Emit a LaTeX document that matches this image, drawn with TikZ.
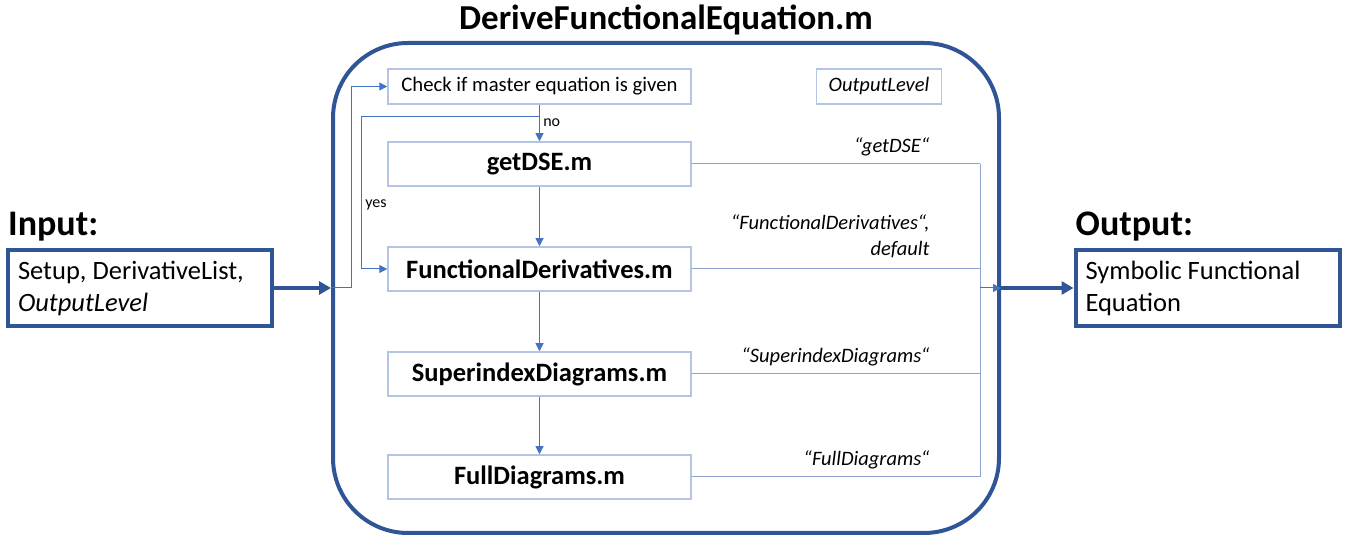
\documentclass[tikz,border=0pt]{standalone}
\usepackage{fontspec}
\setmainfont{Carlito}
\usetikzlibrary{arrows.meta, positioning, calc}

\definecolor{darkblue}{HTML}{2F5597}
\definecolor{linkblue}{HTML}{4472C4}
\definecolor{boxblue}{HTML}{B4C5E4}
\definecolor{tapblue}{HTML}{8EA4CF}

\begin{document}
\begin{tikzpicture}[
    x = 1pt, y = 1pt,
    node distance = 59.5pt,
    frame/.style = {draw=darkblue, line width=4pt, rectangle, rounded corners=75pt, minimum width=666pt, minimum height=490pt},
    module/.style = {draw=boxblue, line width=1.5pt, rectangle, minimum height=44pt, minimum width=303pt, align=center, font=\fontsize{26.5}{31}\selectfont\bfseries},
    smallbox/.style = {draw=boxblue, line width=1.5pt, rectangle, minimum height=35pt, font=\fontsize{20.7}{25}\selectfont},
    iobox/.style = {draw=darkblue, line width=4pt, rectangle, minimum height=76pt, text width=244pt, inner xsep=10pt, align=flush left, font=\fontsize{26.5}{32}\selectfont},
    heading/.style = {font=\fontsize{36}{42}\selectfont\bfseries, inner sep=0pt},
    lbl/.style = {text=black, font=\fontsize{20.5}{25.5}\selectfont\itshape, align=right, inner sep=0pt},
    small/.style = {text=black, font=\fontsize{16}{19}\selectfont},
    line/.style = {-{Triangle[length=8pt, width=8pt]}, linkblue, line width=1pt},
    thickline/.style = {-{Triangle[length=12pt, width=13pt]}, darkblue, line width=4pt},
    tap/.style = {tapblue, line width=1pt}
]
    \useasboundingbox (0,0) rectangle (1351,537);

    % Frame and title
    \node [frame] (frame) at (666,249) {};
    \node [heading, anchor=base, font=\fontsize{35}{42}\selectfont\bfseries] (title) at (666,507) {DeriveFunctionalEquation.m};

    % Nodes
    \node [smallbox, minimum width=303pt] (check) at (539.5,450.5) {Check if master equation is given};
    \node [smallbox, minimum width=125pt, font=\fontsize{20.5}{25}\selectfont\itshape, right=124pt of check] (outlvl) {OutputLevel};
    \node [module, below=36.5pt of check] (getdse) {getDSE.m};
    \node [module, below=of getdse] (funcder) {FunctionalDerivatives.m};
    \node [module, below=of funcder] (superidx) {SuperindexDiagrams.m};
    \node [module, below=57.5pt of superidx] (fulldiag) {FullDiagrams.m};

    % Input and output
    \node [iobox] (input) at (140,249) {Setup, DerivativeList,\\\textit{OutputLevel}};
    \node [heading, anchor=base west] (inlbl) at ($(input.north west)+(2,12)$) {Input:};
    \node [iobox] (output) at (1207.5,249) {Symbolic Functional\\Equation};
    \node [heading, anchor=base west] (outlbl) at ($(output.north west)+(2,12)$) {Output:};

    \coordinate (split) at ($(check.south)+(0,-12)$);
    \coordinate (bus) at (980,0);

    % Edges
    \draw [thickline] (input) -- (input -| frame.west);
    \draw [line] (input -| frame.west) -- ++(20,0) |- (check);
    \draw [line] (check) -- node [small, right, pos=0.5] {no} (getdse);
    \draw [line] (split) -- ++(-178,0) |- node [small, right, pos=0.29] {yes} (funcder);
    \draw [line] (getdse) -- (funcder);
    \draw [line] (funcder) -- (superidx);
    \draw [line] (superidx) -- (fulldiag);

    % Results to the output
    \draw [tap] (getdse) -- (getdse -| bus) node [lbl, anchor=base east, xshift=-50pt, yshift=11pt] {“getDSE“};
    \draw [tap] (funcder) -- (funcder -| bus) node [lbl, anchor=south east, xshift=-50pt, yshift=11pt] {“FunctionalDerivatives“,\\default};
    \draw [tap] (superidx) -- (superidx -| bus) node [lbl, anchor=base east, xshift=-50pt, yshift=11pt] {“SuperindexDiagrams“};
    \draw [tap] (fulldiag) -- (fulldiag -| bus) node [lbl, anchor=base east, xshift=-50pt, yshift=11pt] {“FullDiagrams“};
    \draw [tap] (getdse -| bus) -- (fulldiag -| bus);
    \draw [line] (output -| bus) -- (output -| frame.east);
    \draw [thickline] (output -| frame.east) -- (output);

\end{tikzpicture}
\end{document}
